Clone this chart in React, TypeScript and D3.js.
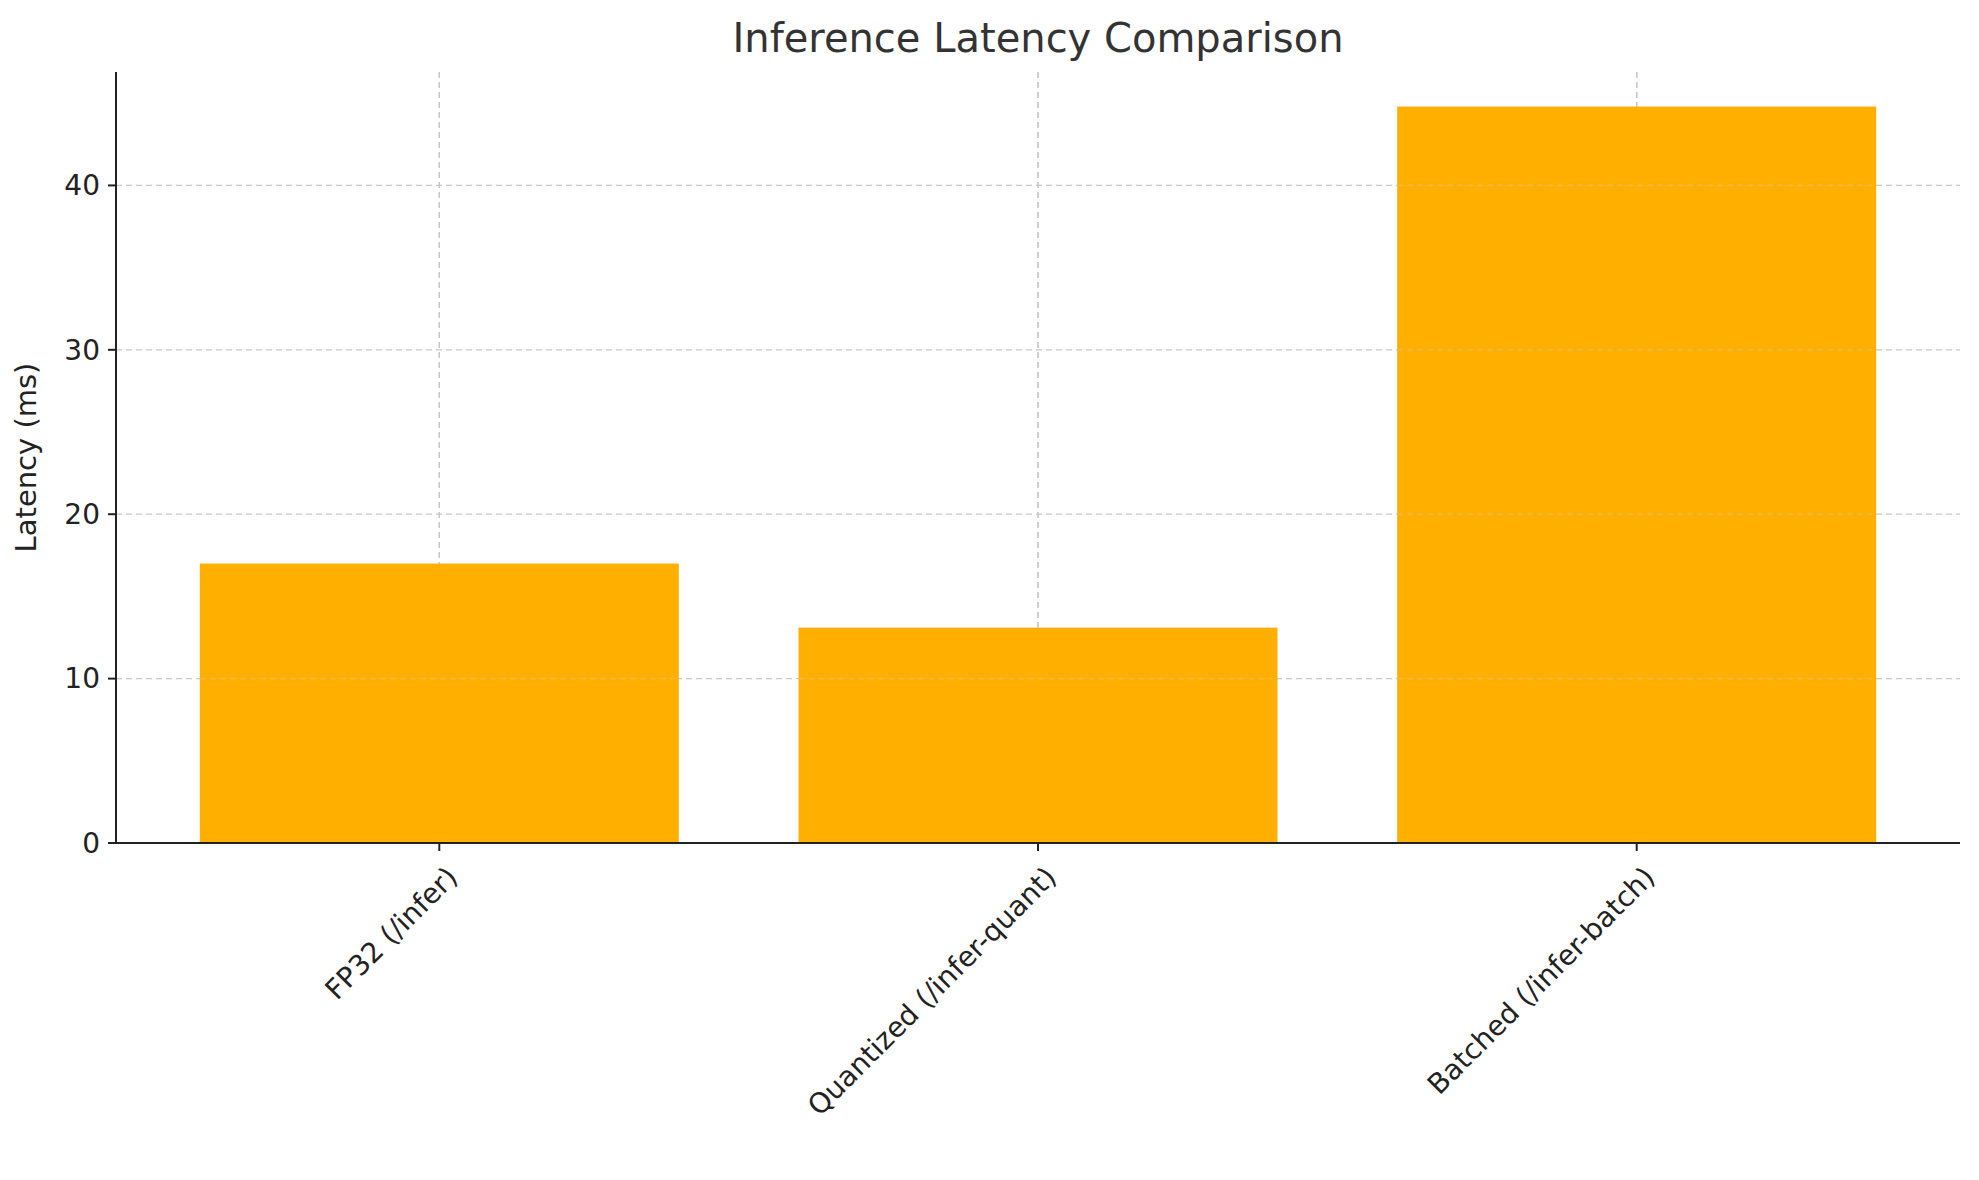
import * as d3 from "d3";

const categories = ["FP32 (/infer)", "Quantized (/infer-quant)", "Batched (/infer-batch)"];
const latency = [17.0, 13.1, 44.8];
const yTicks = [0, 10, 20, 30, 40];

export default function App() {
  const W = 1979, H = 1180;
  const m = { left: 116, right: 19, top: 72, bottom: 337 };
  const iw = W - m.left - m.right;
  const ih = H - m.top - m.bottom;

  // matplotlib-like categorical axis: index positions with 5% margins
  const x = d3.scaleLinear().domain([-0.54, 2.54]).range([0, iw]);
  const y = d3.scaleLinear().domain([0, 46.9]).range([ih, 0]);
  const bw = x(0.8) - x(0);
  const font = "DejaVu Sans, sans-serif";

  return (
    <svg width={W} height={H} style={{ display: "block", margin: -8 }} fontFamily={font}>
      <rect width={W} height={H} fill="#fff" />
      <text x={m.left + iw / 2} y={52} textAnchor="middle" fontSize={40} fill="#333">
        Inference Latency Comparison
      </text>
      <g transform={`translate(${m.left},${m.top})`}>
        {yTicks.map((t) => (
          <line key={"gy" + t} x1={0} x2={iw} y1={y(t)} y2={y(t)} stroke="#c8c8c8" strokeDasharray="6,4" strokeWidth={1.3} />
        ))}
        {categories.map((c, i) => (
          <line key={"gx" + i} x1={x(i)} x2={x(i)} y1={0} y2={ih} stroke="#c8c8c8" strokeDasharray="6,4" strokeWidth={1.3} />
        ))}
        {latency.map((v, i) => (
          <rect key={i} x={x(i) - bw / 2} y={y(v)} width={bw} height={ih - y(v)} fill="#FFAF00" />
        ))}
        {categories.map((c, i) => (
          <line key={"gx2" + i} x1={x(i)} x2={x(i)} y1={0} y2={y(latency[i])} stroke="#c8c8c8" strokeDasharray="6,4" strokeWidth={1.3} />
        ))}
        {latency.map((v, i) =>
          yTicks.filter((t) => t > 0 && t < v).map((t) => (
            <line key={"gy2" + i + t} x1={x(i) - bw / 2} x2={x(i) + bw / 2} y1={y(t)} y2={y(t)} stroke="#d8c28a" strokeOpacity={0.6} strokeDasharray="6,4" strokeWidth={1.3} />
          ))
        )}
        <line x1={0} x2={0} y1={0} y2={ih} stroke="#222" strokeWidth={2} />
        <line x1={0} x2={iw} y1={ih} y2={ih} stroke="#222" strokeWidth={2} />
        {yTicks.map((t) => (
          <g key={"yt" + t}>
            <line x1={-8} x2={0} y1={y(t)} y2={y(t)} stroke="#222" strokeWidth={2} />
            <text x={-16} y={y(t)} dy="0.35em" textAnchor="end" fontSize={28} fill="#222">{t}</text>
          </g>
        ))}
        {categories.map((c, i) => (
          <g key={"xt" + i}>
            <line x1={x(i)} x2={x(i)} y1={ih} y2={ih + 8} stroke="#222" strokeWidth={2} />
            <text transform={`translate(${x(i) + 6},${ih + 22}) rotate(-45)`} textAnchor="end" dy="0.7em" fontSize={28} fill="#222">{c}</text>
          </g>
        ))}
        <text transform={`translate(${-80},${ih / 2}) rotate(-90)`} textAnchor="middle" fontSize={29} fill="#222">Latency (ms)</text>
      </g>
    </svg>
  );
}
